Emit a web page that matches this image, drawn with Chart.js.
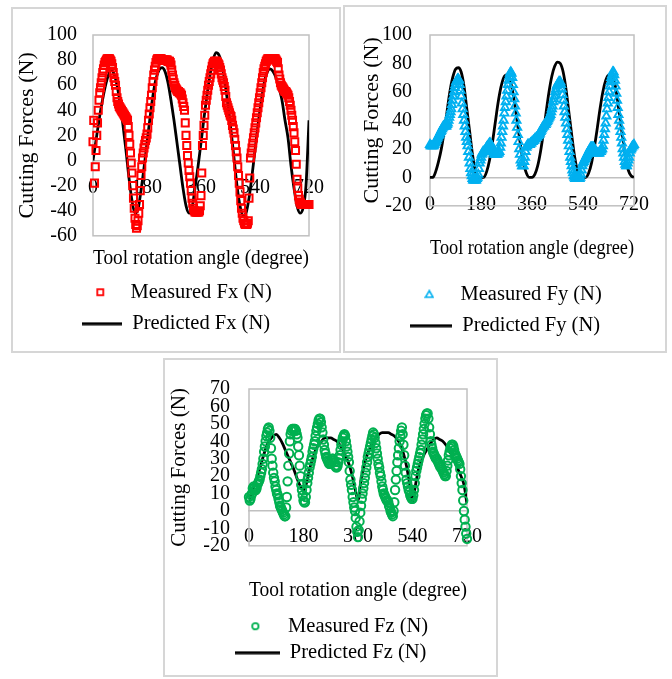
<!DOCTYPE html>
<html>
<head>
<meta charset="utf-8">
<script src="https://cdn.jsdelivr.net/npm/chart.js@4.4.0/dist/chart.umd.min.js"></script>
<style>
  body { margin: 0; background: #fff; }
  .panel { position: absolute; border: 2px solid #d6d6d6; background: #fff; }
  .panel canvas { display: block; }
  #p1 { left: 11px; top: 7px; width: 326px; height: 342px; }
  #p2 { left: 343px; top: 5px; width: 320px; height: 344px; }
  #p3 { left: 163px; top: 358px; width: 331px; height: 315px; }
</style>
</head>
<body>
<div class="panel" id="p1"><canvas id="fx" width="326" height="342"></canvas></div>
<div class="panel" id="p2"><canvas id="fy" width="320" height="344"></canvas></div>
<div class="panel" id="p3"><canvas id="fz" width="331" height="315"></canvas></div>
<script>
// tool rotation angles (degree) of the measured samples and of the model curve
const angleMeas = [
  0, 2.5, 5, 7.5, 10, 12.5, 15, 17.5, 20, 22.5, 25, 27.5, 30, 32.5, 35, 37.5, 40, 42.5, 45, 47.5, 50, 52.5, 55, 57.5,
  60, 62.5, 65, 67.5, 70, 72.5, 75, 77.5, 80, 82.5, 85, 87.5, 90, 92.5, 95, 97.5, 100, 102.5, 105, 107.5, 110, 112.5, 115, 117.5,
  120, 122.5, 125, 127.5, 130, 132.5, 135, 137.5, 140, 142.5, 145, 147.5, 150, 152.5, 155, 157.5, 160, 162.5, 165, 167.5, 170, 172.5, 175, 177.5,
  180, 182.5, 185, 187.5, 190, 192.5, 195, 197.5, 200, 202.5, 205, 207.5, 210, 212.5, 215, 217.5, 220, 222.5, 225, 227.5, 230, 232.5, 235, 237.5,
  240, 242.5, 245, 247.5, 250, 252.5, 255, 257.5, 260, 262.5, 265, 267.5, 270, 272.5, 275, 277.5, 280, 282.5, 285, 287.5, 290, 292.5, 295, 297.5,
  300, 302.5, 305, 307.5, 310, 312.5, 315, 317.5, 320, 322.5, 325, 327.5, 330, 332.5, 335, 337.5, 340, 342.5, 345, 347.5, 350, 352.5, 355, 357.5,
  360, 362.5, 365, 367.5, 370, 372.5, 375, 377.5, 380, 382.5, 385, 387.5, 390, 392.5, 395, 397.5, 400, 402.5, 405, 407.5, 410, 412.5, 415, 417.5,
  420, 422.5, 425, 427.5, 430, 432.5, 435, 437.5, 440, 442.5, 445, 447.5, 450, 452.5, 455, 457.5, 460, 462.5, 465, 467.5, 470, 472.5, 475, 477.5,
  480, 482.5, 485, 487.5, 490, 492.5, 495, 497.5, 500, 502.5, 505, 507.5, 510, 512.5, 515, 517.5, 520, 522.5, 525, 527.5, 530, 532.5, 535, 537.5,
  540, 542.5, 545, 547.5, 550, 552.5, 555, 557.5, 560, 562.5, 565, 567.5, 570, 572.5, 575, 577.5, 580, 582.5, 585, 587.5, 590, 592.5, 595, 597.5,
  600, 602.5, 605, 607.5, 610, 612.5, 615, 617.5, 620, 622.5, 625, 627.5, 630, 632.5, 635, 637.5, 640, 642.5, 645, 647.5, 650, 652.5, 655, 657.5,
  660, 662.5, 665, 667.5, 670, 672.5, 675, 677.5, 680, 682.5, 685, 687.5, 690, 692.5, 695, 697.5, 700, 702.5, 705, 707.5, 710, 712.5, 715, 717.5,
  720
];
const anglePred = [
  0, 10, 20, 30, 40, 50, 60, 70, 80, 90, 100, 110,
  120, 130, 140, 150, 160, 170, 180, 190, 200, 210, 220, 230,
  240, 250, 260, 270, 280, 290, 300, 310, 320, 330, 340, 350,
  360, 370, 380, 390, 400, 410, 420, 430, 440, 450, 460, 470,
  480, 490, 500, 510, 520, 530, 540, 550, 560, 570, 580, 590,
  600, 610, 620, 630, 640, 650, 660, 670, 680, 690, 700, 710,
  720
];
const xTicks = [0, 180, 360, 540, 720];

// Fx (N)
const fxMeasured = [
  15, 32, -18, -5, 8, 20, 30, 40, 48, 54, 58, 62, 66, 70, 73, 76, 78, 79, 80, 81, 81, 81, 81, 80,
  79, 77, 74, 70, 66, 63, 60, 55, 50, 47, 45, 43, 42, 41, 40, 39, 38, 37, 36, 35, 34, 33, 32, 27,
  20, 13, 6, -2, -10, -20, -30, -38, -46, -51, -54, -52, -48, -42, -35, -24, -12, -5, 2, 6, 10, 13, 16, 18,
  21, 26, 32, 37, 42, 47, 52, 58, 63, 68, 72, 75, 78, 80, 81, 81, 81, 81, 81, 81, 80, 80, 80, 80,
  80, 80, 80, 80, 79, 79, 79, 78, 76, 72, 68, 65, 62, 60, 58, 57, 56, 55, 55, 54, 54, 53, 52, 49,
  46, 43, 40, 30, 20, 12, 4, -2, -8, -13, -18, -24, -30, -34, -38, -40, -41, -41, -41, -41, -41, -41, -40, -36,
  -28, -10, 12, 20, 28, 36, 44, 48, 52, 56, 60, 63, 66, 69, 72, 75, 77, 78, 79, 79, 79, 79, 78, 77,
  76, 74, 72, 69, 66, 64, 62, 59, 56, 51, 46, 44, 42, 40, 38, 36, 35, 32, 28, 25, 22, 17, 12, 7,
  2, -5, -12, -18, -25, -32, -38, -42, -46, -48, -50, -51, -51, -51, -50, -48, -30, -14, 2, 6, 10, 14, 18, 22,
  26, 30, 34, 38, 42, 46, 50, 54, 58, 62, 66, 70, 73, 75, 77, 79, 80, 81, 81, 81, 81, 81, 81, 81,
  81, 81, 81, 81, 80, 79, 78, 73, 68, 65, 62, 60, 59, 58, 57, 56, 55, 55, 54, 53, 52, 50, 47, 44,
  40, 36, 32, 27, 22, 15, 8, -3, -15, -22, -28, -31, -33, -34, -35, -35, -35, -35, -35, -35, -35, -35, -35, -35,
  -35
];
const fxPredicted = [
  0, 16, 32, 46, 58, 67, 72, 69, 60, 46, 28, 8,
  -14, -32, -42, -39, -24, -6, 14, 34, 52, 65, 72, 74,
  71, 62, 48, 32, 14, -4, -22, -36, -42, -38, -22, -5,
  14, 34, 52, 68, 80, 86, 84, 76, 62, 44, 24, 2,
  -20, -36, -44, -42, -30, -12, 8, 28, 46, 61, 70, 73,
  71, 66, 58, 48, 32, 18, -4, -22, -36, -42, -38, -20,
  32
];

// Fy (N)
const fyMeasured = [
  23, 22, 22, 22, 22, 22, 23, 24, 25, 26, 27, 28, 29, 30, 31, 32, 33, 34, 35, 36, 36, 36, 36, 36,
  37, 38, 40, 42, 44, 46, 48, 51, 54, 57, 60, 63, 65, 67, 68, 69, 69, 68, 65, 61, 57, 52, 48, 44,
  40, 36, 32, 28, 25, 22, 18, 14, 10, 6, 3, 1, -1, -2, -2, -2, -2, -2, -1, 0, 2, 6, 10, 12,
  14, 16, 17, 18, 18, 18, 19, 20, 21, 22, 22, 23, 24, 24, 23, 22, 20, 18, 17, 16, 16, 16, 16, 16,
  17, 17, 18, 21, 24, 28, 32, 36, 40, 45, 49, 53, 57, 61, 65, 68, 71, 73, 74, 73, 70, 65, 60, 55,
  50, 45, 40, 35, 30, 25, 20, 16, 12, 10, 8, 8, 8, 11, 14, 18, 21, 22, 23, 23, 23, 23, 24, 24,
  25, 25, 26, 26, 27, 27, 28, 28, 29, 29, 30, 31, 32, 33, 34, 35, 36, 36, 37, 37, 38, 39, 40, 41,
  42, 43, 44, 46, 48, 50, 53, 55, 57, 60, 62, 64, 65, 66, 67, 67, 67, 65, 62, 58, 54, 50, 46, 42,
  38, 34, 30, 26, 22, 18, 14, 11, 8, 5, 3, 1, 0, -1, -1, -1, -1, -1, -1, -1, 0, 2, 5, 8,
  10, 11, 12, 13, 14, 15, 16, 17, 18, 19, 20, 21, 21, 21, 21, 21, 20, 19, 18, 17, 17, 17, 17, 17,
  18, 18, 19, 20, 22, 26, 30, 34, 38, 43, 48, 52, 56, 60, 64, 67, 70, 72, 74, 74, 72, 68, 64, 59,
  54, 49, 44, 40, 36, 32, 28, 24, 20, 17, 14, 11, 9, 8, 8, 10, 12, 14, 17, 19, 20, 21, 22, 22,
  23
];
const fyPredicted = [
  0, 0, 4, 11, 20, 32, 46, 60, 70, 76, 77, 74,
  64, 48, 32, 16, 4, 0, 0, 0, 4, 12, 24, 38,
  52, 63, 70, 72, 70, 62, 50, 36, 22, 10, 3, 0,
  0, 2, 8, 18, 31, 46, 60, 71, 78, 81, 80, 74,
  62, 46, 30, 15, 5, 0, 0, 0, 3, 10, 21, 34,
  48, 60, 68, 72, 72, 68, 57, 42, 28, 14, 5, 1,
  0
];

// Fz (N)
const fzMeasured = [
  8, 6, 7, 9, 10, 13, 14, 13, 12, 12, 13, 15, 16, 17, 18, 20, 22, 24, 27, 30, 34, 37, 40, 43,
  45, 47, 48, 46, 42, 36, 30, 26, 22, 19, 17, 14, 12, 10, 9, 7, 5, 3, 2, 1, 0, -1, -2, -3,
  -3, 2, 8, 17, 26, 33, 40, 44, 46, 47, 47, 47, 47, 47, 46, 44, 42, 37, 32, 26, 20, 15, 12, 9,
  6, 5, 5, 8, 12, 16, 19, 22, 25, 27, 29, 31, 34, 36, 38, 40, 43, 46, 48, 50, 52, 53, 53, 51,
  48, 45, 41, 38, 35, 33, 31, 30, 29, 28, 27, 27, 28, 29, 30, 30, 29, 28, 26, 25, 25, 26, 28, 30,
  32, 35, 38, 40, 42, 43, 44, 43, 40, 37, 34, 31, 28, 23, 18, 15, 12, 8, 5, 2, 0, -4, -9, -12,
  -15, -11, -6, -1, 3, 7, 10, 13, 16, 19, 22, 25, 28, 31, 33, 35, 37, 39, 41, 43, 45, 44, 42, 39,
  36, 33, 30, 27, 25, 22, 20, 17, 14, 12, 10, 9, 8, 7, 6, 6, 5, 3, 2, 0, -1, -2, -3, 0,
  5, 12, 18, 23, 28, 32, 36, 40, 43, 46, 48, 44, 38, 32, 26, 22, 18, 16, 14, 12, 11, 9, 8, 7,
  7, 9, 12, 16, 20, 23, 25, 27, 29, 31, 33, 35, 38, 41, 44, 47, 50, 53, 55, 56, 56, 53, 48, 44,
  40, 38, 36, 34, 33, 32, 31, 30, 30, 29, 28, 27, 26, 25, 25, 24, 23, 22, 21, 20, 20, 23, 26, 29,
  32, 34, 36, 37, 38, 38, 37, 35, 33, 32, 31, 30, 29, 28, 27, 24, 20, 16, 12, 6, 0, -5, -9, -13,
  -16
];
const fzPredicted = [
  5, 11, 16, 21, 27, 33, 38, 41, 43, 44, 42, 39,
  35, 31, 27, 23, 18, 14, 12, 16, 24, 30, 35, 38,
  40, 42, 42, 42, 41, 40, 38, 35, 31, 27, 21, 13,
  6, 18, 26, 32, 36, 40, 42, 44, 45, 45, 45, 44,
  43, 41, 38, 33, 26, 16, 5, 15, 24, 29, 33, 36,
  39, 41, 42, 41, 40, 38, 35, 32, 28, 24, 20, 15,
  4
];

Chart.defaults.font.family = "'Liberation Serif', 'Times New Roman', serif";
Chart.defaults.font.size = 20;
Chart.defaults.color = '#000';

const pts = (xs, ys) => ys.map((y, i) => ({ x: xs[i], y: y }));

// small canvases used as legend symbols
function icon(w, h, paint) {
  const c = document.createElement('canvas');
  c.width = w; c.height = h;
  paint(c.getContext('2d'), w, h);
  return c;
}
const lineIcon = w => icon(w, 4, (g, w, h) => {
  g.strokeStyle = '#000'; g.lineWidth = 2.8;
  g.beginPath(); g.moveTo(0, h / 2); g.lineTo(w, h / 2); g.stroke();
});
const squareIcon = c => icon(10, 10, g => {
  g.strokeStyle = c; g.lineWidth = 1.8; g.strokeRect(2, 2, 6, 6);
});
const triangleIcon = c => icon(10, 10, g => {
  g.strokeStyle = c; g.lineWidth = 1.6;
  g.beginPath(); g.moveTo(5, 1.5); g.lineTo(8.8, 8); g.lineTo(1.2, 8); g.closePath(); g.stroke();
});
const circleIcon = c => icon(10, 10, g => {
  g.strokeStyle = c; g.lineWidth = 1.8;
  g.beginPath(); g.arc(5, 5, 3.2, 0, Math.PI * 2); g.stroke();
});

// plot-area frame
const frame = {
  id: 'frame',
  beforeDatasetsDraw(chart) {
    const { ctx, chartArea: a } = chart;
    ctx.save();
    ctx.strokeStyle = '#c0c0c0';
    ctx.lineWidth = 1.5;
    ctx.strokeRect(a.left, a.top, a.right - a.left, a.bottom - a.top);
    ctx.restore();
  }
};

function forceChart(id, o) {
  return new Chart(id, {
    type: 'scatter',
    data: {
      datasets: [{
        label: o.measLabel,
        data: pts(angleMeas, o.meas),
        pointStyle: o.style,
        pointRadius: o.radius,
        pointBorderWidth: o.stroke,
        pointBorderColor: o.color,
        pointBackgroundColor: 'rgba(0,0,0,0)',
        borderColor: o.color,
        clip: false
      }, {
        label: o.predLabel,
        data: pts(anglePred, o.pred),
        showLine: true,
        pointRadius: 0,
        borderColor: '#000',
        borderWidth: 2.8,
        cubicInterpolationMode: 'monotone'
      }]
    },
    options: {
      responsive: false,
      animation: false,
      layout: { padding: o.pad },
      plugins: {
        tooltip: { enabled: false },
        legend: {
          position: 'bottom',
          labels: {
            usePointStyle: true,
            pointStyleWidth: o.iconW,
            padding: o.legendPad,
            color: '#000',
            font: { size: 20.5 },
            generateLabels: chart => chart.data.datasets.map((ds, i) => ({
              text: ds.label,
              datasetIndex: i,
              pointStyle: o.icons[i],
              fontColor: '#000',
              fillStyle: 'rgba(0,0,0,0)',
              strokeStyle: 'rgba(0,0,0,0)',
              lineWidth: 0,
              hidden: false
            }))
          }
        },
        title: {
          display: true,
          text: 'Tool rotation angle (degree)',
          position: 'bottom',
          fullSize: false,
          weight: 100,
          padding: o.titlePad,
          color: '#000',
          font: { size: 21, weight: 'normal' }
        }
      },
      scales: {
        x: {
          type: 'linear',
          position: { y: 0 },
          min: 0,
          max: 720,
          afterBuildTicks: s => { s.ticks = xTicks.map(v => ({ value: v })); },
          grid: { display: false, drawTicks: false },
          border: { display: true, color: '#c0c0c0', width: 1.5 },
          ticks: { padding: o.xPad, maxRotation: 0, autoSkip: false, color: '#000', font: { size: 20 } }
        },
        y: {
          min: o.yMin,
          max: o.yMax,
          afterFit: s => { s.width = o.yW; },
          grid: { display: false, drawTicks: false },
          border: { display: false },
          ticks: { stepSize: o.yStep, padding: o.yPad, autoSkip: false, color: '#000', font: { size: 20, lineHeight: 1 } },
          title: {
            display: true,
            text: 'Cutting Forces (N)',
            color: '#000',
            font: { size: o.yTitleSize },
            padding: { top: o.yTitleTop, bottom: 0 }
          }
        },
        // empty right-hand axis that only reserves the margin right of the plot
        yr: {
          position: 'right',
          grid: { display: false, drawTicks: false },
          border: { display: false },
          ticks: { display: false },
          afterFit: s => { s.width = o.rightGap; }
        }
      }
    },
    plugins: [frame]
  });
}

forceChart('fx', {
  measLabel: 'Measured Fx (N)', predLabel: 'Predicted Fx (N)',
  meas: fxMeasured, pred: fxPredicted,
  style: 'rect', radius: 5, stroke: 2, color: '#ff0000',
  icons: [squareIcon('#ff0000'), lineIcon(40)], iconW: 40,
  yMin: -60, yMax: 100, yStep: 20,
  pad: { left: 0, top: 22, right: 0, bottom: 7 }, rightGap: 26,
  yW: 80, yPad: 16, yTitleSize: 22, yTitleTop: 1,
  xPad: 15, titlePad: { top: 10, bottom: 0 }, legendPad: 11
});

forceChart('fy', {
  measLabel: 'Measured Fy (N)', predLabel: 'Predicted Fy (N)',
  meas: fyMeasured, pred: fyPredicted,
  style: 'triangle', radius: 4.7, stroke: 1.9, color: '#00b0f0',
  icons: [triangleIcon('#00b0f0'), lineIcon(42)], iconW: 42,
  yMin: -20, yMax: 100, yStep: 20,
  pad: { left: 0, top: 22, right: 0, bottom: 5 }, rightGap: 31,
  yW: 85, yPad: 18, yTitleSize: 22, yTitleTop: 14,
  xPad: 15, titlePad: { top: 30, bottom: 12 }, legendPad: 11
});

forceChart('fz', {
  measLabel: 'Measured Fz (N)', predLabel: 'Predicted Fz (N)',
  meas: fzMeasured, pred: fzPredicted,
  style: 'circle', radius: 4.2, stroke: 2, color: '#00b050',
  icons: [circleIcon('#00b050'), lineIcon(45)], iconW: 45,
  yMin: -20, yMax: 70, yStep: 10,
  pad: { left: 0, top: 21, right: 0, bottom: 2 }, rightGap: 11,
  yW: 84, yPad: 19, yTitleSize: 21, yTitleTop: 2,
  xPad: 14, titlePad: { top: 32, bottom: 7 }, legendPad: 6
});
</script>
</body>
</html>
